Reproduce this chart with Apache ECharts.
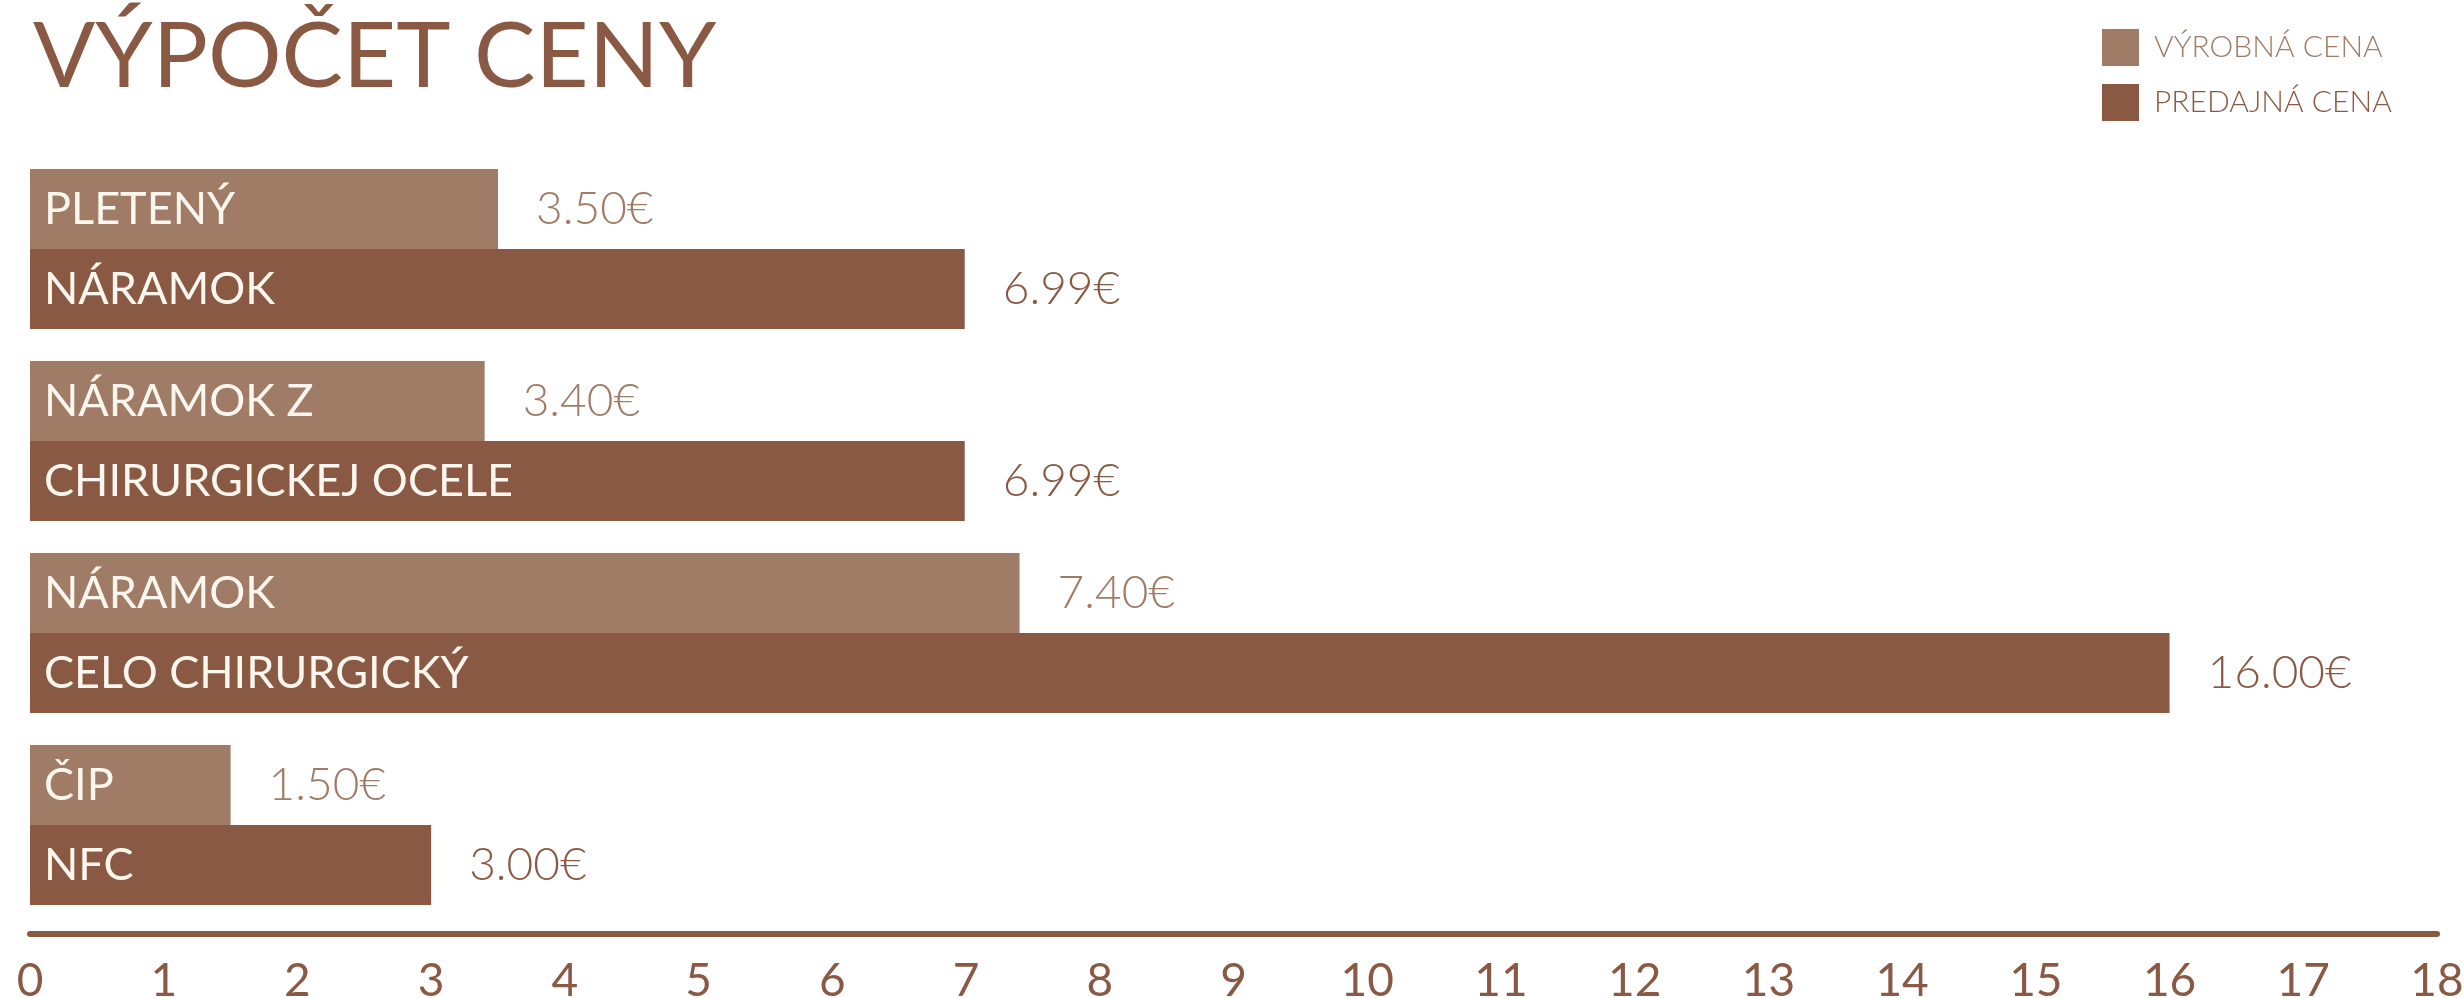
<!DOCTYPE html>
<html>
<head>
<meta charset="utf-8">
<script src="https://cdn.jsdelivr.net/npm/echarts@6/dist/echarts.min.js"></script>
<style>
html,body{margin:0;padding:0;background:#ffffff;}
#chart{width:2464px;height:998px;}
</style>
</head>
<body>
<div id="chart"></div>
<script>
const categories = ['PLETENÝ NÁRAMOK', 'NÁRAMOK Z CHIRURGICKEJ OCELE', 'NÁRAMOK CELO CHIRURGICKÝ', 'ČIP NFC'];
const labelLine1 = ['PLETENÝ', 'NÁRAMOK Z', 'NÁRAMOK', 'ČIP'];
const labelLine2 = ['NÁRAMOK', 'CHIRURGICKEJ OCELE', 'CELO CHIRURGICKÝ', 'NFC'];
const seriesNames = ['VÝROBNÁ CENA', 'PREDAJNÁ CENA'];
const productionPrice = [3.50, 3.40, 7.40, 1.50];
const sellingPrice = [6.99, 6.99, 16.00, 3.00];
const tickMin = 0, tickMax = 18, tickStep = 1;

const LIGHT = '#a07b66';
const DARK = '#8a5944';
const CREAM = '#fbf6ee';
const FONT = 'Lato, "Noto Sans", sans-serif';

const chart = echarts.init(document.getElementById('chart'), null, {renderer: 'canvas'});
chart.setOption({
  backgroundColor: '#ffffff',
  animation: false,
  title: {
    text: 'VÝPOČET CENY',
    left: 28, top: 6,
    textStyle: {fontFamily: FONT, fontSize: 92, fontWeight: 'normal', color: DARK}
  },
  legend: {
    orient: 'vertical',
    left: 2097, top: 24,
    itemWidth: 37, itemHeight: 37, itemGap: 18,
    icon: 'rect',
    data: [
      {name: seriesNames[0], textStyle: {color: LIGHT}},
      {name: seriesNames[1], textStyle: {color: DARK}}
    ],
    textStyle: {fontFamily: FONT, fontSize: 30, fontWeight: 300, padding: [0, 0, 0, 10]}
  },
  grid: {left: 30, right: 27, top: 153, bottom: 998 - 921, containLabel: false, outerBoundsMode: 'none'},
  xAxis: {
    type: 'value',
    min: tickMin, max: tickMax, interval: tickStep,
    offset: 13,
    splitLine: {show: false},
    axisTick: {show: false},
    axisLine: {show: true, lineStyle: {color: DARK, width: 6}},
    axisLabel: {margin: 24, color: DARK, fontFamily: FONT, fontSize: 46, fontWeight: 'normal'}
  },
  yAxis: {
    type: 'category',
    data: categories,
    inverse: true,
    z: 10,
    axisLine: {show: false},
    axisTick: {show: false},
    splitLine: {show: false},
    axisLabel: {
      inside: true,
      margin: 14,
      align: 'left',
      color: CREAM,
      fontFamily: FONT,
      fontSize: 45,
      lineHeight: 80,
      formatter: function (v, i) { return labelLine1[i] + '\n' + labelLine2[i]; }
    }
  },
  series: [
    {
      name: seriesNames[0], type: 'bar', data: productionPrice,
      itemStyle: {color: LIGHT},
      barGap: '0%', barCategoryGap: '16.67%',
      label: {show: true, position: 'right', distance: 38, color: LIGHT, fontFamily: FONT, fontSize: 46, fontWeight: 300,
        formatter: p => p.value.toFixed(2) + '€'}
    },
    {
      name: seriesNames[1], type: 'bar', data: sellingPrice,
      itemStyle: {color: DARK},
      barGap: '0%', barCategoryGap: '16.67%',
      label: {show: true, position: 'right', distance: 38, color: DARK, fontFamily: FONT, fontSize: 46, fontWeight: 300,
        formatter: p => p.value.toFixed(2) + '€'}
    }
  ]
});
</script>
</body>
</html>
